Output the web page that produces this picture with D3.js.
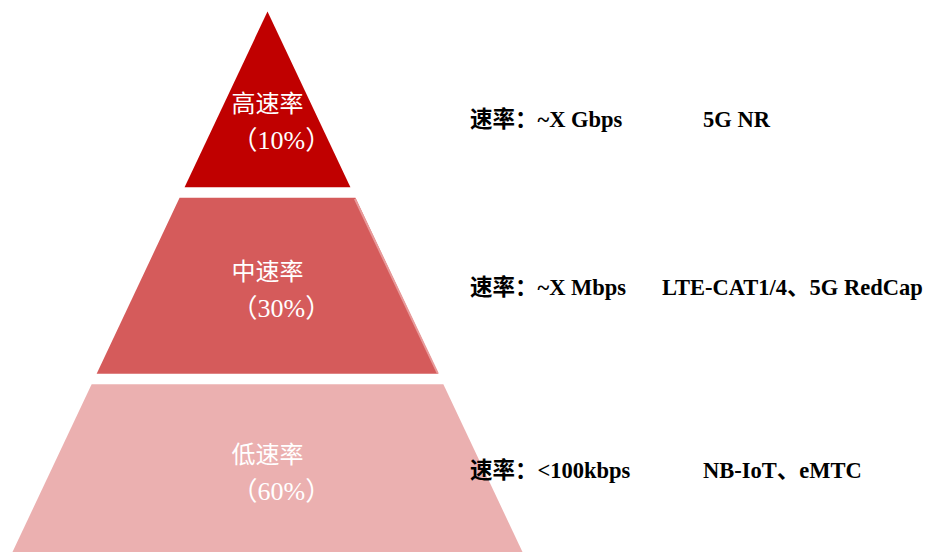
<!DOCTYPE html>
<html>
<head>
<meta charset="utf-8">
<script src="https://cdn.jsdelivr.net/npm/d3@7"></script>
<style>
  html, body { margin: 0; padding: 0; background: #ffffff; }
  svg { display: block; }
</style>
</head>
<body>
<svg id="chart" width="935" height="552"></svg>
<script>
// Speed tiers of IoT connections, top to bottom
const tiers = ["高速率", "中速率", "低速率"];
const shares = [10, 30, 60];
const rates = ["~X Gbps", "~X Mbps", "<100kbps"];
const techs = ["5G NR", "LTE-CAT1/4、5G RedCap", "NB-IoT、eMTC"];
const tierColors = ["#c00000", "#d55b5b", "#ebb0b0"];

const W = 935, H = 552;
const svg = d3.select("#chart");
const cx = 267.5;

// vertical bands for the three layers (the lowest runs off the bottom edge)
const y = d3.scaleBand()
  .domain(tiers)
  .range([11.5, 560])
  .paddingInner(0.057)
  .paddingOuter(0);

// half-width of the pyramid as a function of height
const halfW = d3.scaleLinear()
  .domain([11.5, 552])
  .range([0, 255]);

const corners = d => {
  const t = y(d), b = y(d) + y.bandwidth();
  const wt = halfW(t), wb = halfW(b);
  return [[cx - wt, t], [cx + wt, t], [cx + wb, b], [cx - wb, b]];
};

const layer = svg.append("g").selectAll("g")
  .data(tiers)
  .join("g");

layer.append("path")
  .attr("fill", (d, i) => tierColors[i])
  .attr("d", d => d3.line()(corners(d)) + "Z");

// soft highlight along the right slope of the middle layer
layer.filter((d, i) => i === 1).append("path")
  .attr("fill", "none")
  .attr("stroke", "#e89a9a")
  .attr("stroke-width", 2)
  .attr("d", d => {
    const c = corners(d);
    return d3.line()([[c[1][0] - 0.5, c[1][1] + 1], [c[2][0] - 0.5, c[2][1]]]);
  });

// row anchor: middle of the visible part of each layer;
// the apex layer's text sits lower inside the triangle
const rowY = (d, i) => {
  const t = y(d), b = Math.min(y(d) + y.bandwidth(), H);
  return (t + b) / 2 + (i === 0 ? 18.5 : 0);
};

const inner = layer.append("text")
  .attr("fill", "#ffffff")
  .attr("font-family", "'Liberation Serif', 'Noto Sans CJK SC', serif")
  .attr("text-anchor", "start");

inner.append("tspan")
  .attr("x", cx - 36)
  .attr("y", (d, i) => rowY(d, i) - 16)
  .attr("dominant-baseline", "central")
  .attr("font-family", "'Noto Sans CJK SC', sans-serif")
  .attr("font-size", 24)
  .text(d => d);

inner.append("tspan")
  .attr("x", cx - 36)
  .attr("y", (d, i) => rowY(d, i) + 23)
  .attr("dominant-baseline", "central")
  .attr("font-size", 26)
  .text((d, i) => "（" + shares[i] + "%）");

// right-hand descriptions: rate and typical technology
const techX = [703, 662, 703];
const right = svg.append("g")
  .attr("font-family", "'Liberation Serif', 'Noto Sans CJK SC', serif")
  .attr("font-weight", "bold")
  .attr("font-size", 22.5)
  .attr("fill", "#000000");

right.selectAll("text.rate")
  .data(tiers)
  .join("text")
  .attr("class", "rate")
  .attr("x", 470)
  .attr("y", (d, i) => rowY(d, i) + 2)
  .attr("dominant-baseline", "central")
  .text((d, i) => "速率：" + rates[i]);

right.selectAll("text.tech")
  .data(tiers)
  .join("text")
  .attr("class", "tech")
  .attr("x", (d, i) => techX[i])
  .attr("y", (d, i) => rowY(d, i) + 2)
  .attr("dominant-baseline", "central")
  .text((d, i) => techs[i]);
</script>
</body>
</html>
